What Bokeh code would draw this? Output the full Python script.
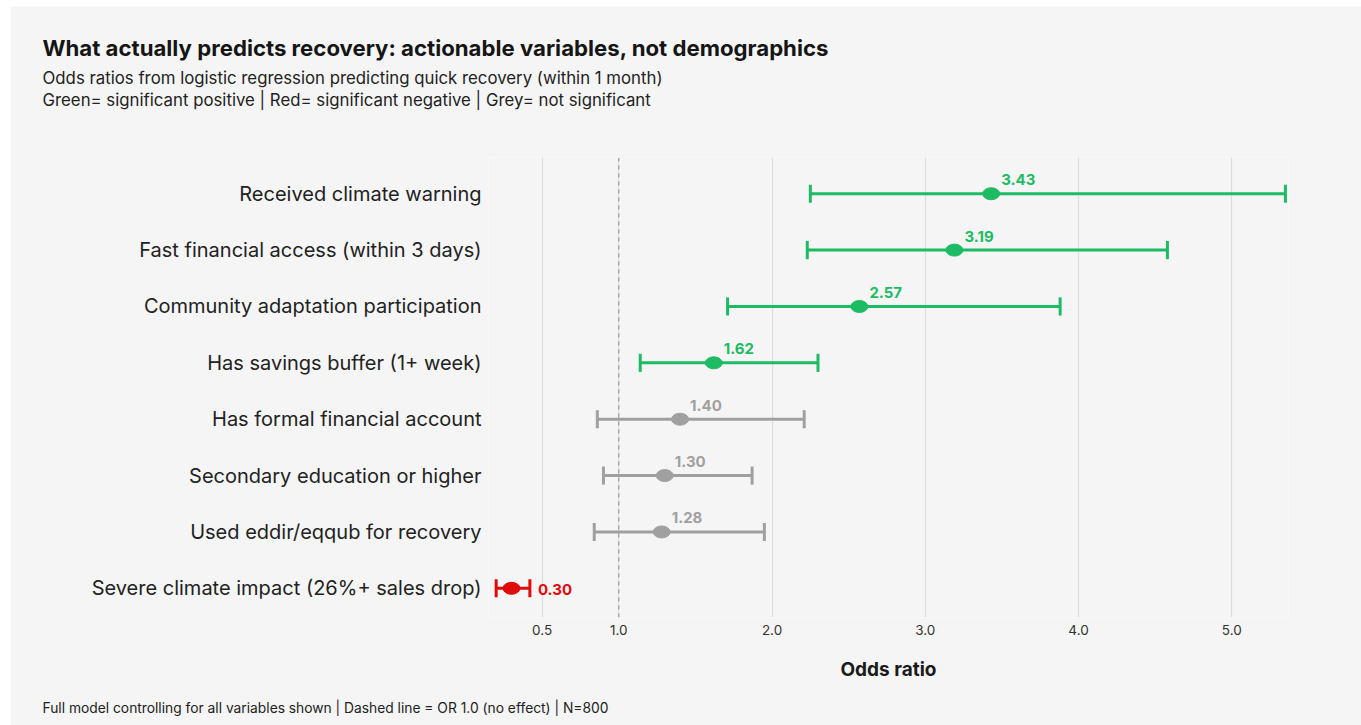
from bokeh.plotting import figure
from bokeh.models import (ColumnDataSource, Range1d, FixedTicker, NumeralTickFormatter,
                          Span, Title, Spacer)
from bokeh.layouts import column, row
from bokeh.core.properties import value
from bokeh.embed import file_html
from bokeh.resources import INLINE

# ---- data ----
categories = [
    "Received climate warning",
    "Fast financial access (within 3 days)",
    "Community adaptation participation",
    "Has savings buffer (1+ week)",
    "Has formal financial account",
    "Secondary education or higher",
    "Used eddir/eqqub for recovery",
    "Severe climate impact (26%+ sales drop)",
]
odds_ratio = [3.43, 3.19, 2.57, 1.62, 1.40, 1.30, 1.28, 0.30]
ci_low = [2.25, 2.23, 1.71, 1.14, 0.86, 0.90, 0.84, 0.20]
ci_high = [5.35, 4.58, 3.88, 2.30, 2.21, 1.87, 1.95, 0.42]
status = ["pos", "pos", "pos", "pos", "ns", "ns", "ns", "neg"]
x_ticks = [0.5, 1.0, 2.0, 3.0, 4.0, 5.0]

FONT = "Inter"
BG = "#f5f5f5"
colors = {"pos": "#1dbb63", "ns": "#a0a0a0", "neg": "#e00b0b"}

n = len(categories)
ypos = [n - i for i in range(n)]
col = [colors[s] for s in status]
cap = 9 / 56.0

src = ColumnDataSource(dict(
    y=ypos, lo=ci_low, hi=ci_high, orr=odds_ratio, color=col,
    ytop=[y + cap for y in ypos], ybot=[y - cap for y in ypos],
))

X0, X1 = 0.15, 5.37
frame_w = (X1 - X0) * 153.3
p = figure(width=1351, height=719, output_backend="svg", toolbar_location=None,
           x_range=Range1d(X0, X1), y_range=Range1d(0.482, 8.643),
           min_border_left=478, min_border_right=int(round(1351 - 478 - frame_w)),
           min_border_top=0, min_border_bottom=0,
           background_fill_color=BG, border_fill_color=BG, outline_line_color=None)

p.ygrid.grid_line_color = None
p.xgrid.grid_line_color = "#dcdcdc"
p.xgrid.grid_line_width = 1.2
p.xgrid.ticker = FixedTicker(ticks=x_ticks)

p.add_layout(Span(location=1.0, dimension="height", line_color="#999999",
                  line_dash="4 4", line_width=1.2))

p.segment(x0="lo", x1="hi", y0="y", y1="y", line_color="color", line_width=3, source=src)
p.segment(x0="lo", x1="lo", y0="ybot", y1="ytop", line_color="color", line_width=3, source=src)
p.segment(x0="hi", x1="hi", y0="ybot", y1="ytop", line_color="color", line_width=3, source=src)
p.ellipse(x="orr", y="y", width=17, height=12, width_units="screen", height_units="screen",
          fill_color="color", line_color="color", source=src)

# value labels
pos_idx = [i for i in range(n) if status[i] != "neg"]
neg_idx = [i for i in range(n) if status[i] == "neg"]
src_a = ColumnDataSource(dict(x=[odds_ratio[i] for i in pos_idx], y=[ypos[i] for i in pos_idx],
                              t=["%.2f" % odds_ratio[i] for i in pos_idx], c=[col[i] for i in pos_idx]))
src_b = ColumnDataSource(dict(x=[ci_high[i] for i in neg_idx], y=[ypos[i] for i in neg_idx],
                              t=["%.2f" % odds_ratio[i] for i in neg_idx], c=[col[i] for i in neg_idx]))
p.text(x="x", y="y", text="t", text_color="c", source=src_a, x_offset=10, y_offset=-14,
       text_font=value(FONT), text_font_size="15px", text_font_style="bold",
       text_baseline="middle", text_align="left")
p.text(x="x", y="y", text="t", text_color="c", source=src_b, x_offset=8, y_offset=1,
       text_font=value(FONT), text_font_size="15px", text_font_style="bold",
       text_baseline="middle", text_align="left")

# axes
xa = p.xaxis[0]
xa.ticker = FixedTicker(ticks=x_ticks)
xa.formatter = NumeralTickFormatter(format="0.0")
xa.axis_line_color = None
xa.major_tick_line_color = None
xa.minor_tick_line_color = None
xa.major_tick_out = 0
xa.major_tick_in = 0
xa.minor_tick_out = 0
xa.major_label_text_font = FONT
xa.major_label_text_font_size = "13.5px"
xa.major_label_text_color = "#333333"
xa.major_label_standoff = 7
xa.axis_label = "Odds ratio"
xa.axis_label_text_font = FONT
xa.axis_label_text_font_size = "19px"
xa.axis_label_text_font_style = "bold"
xa.axis_label_text_color = "#1a1a1a"
xa.axis_label_standoff = 20

ya = p.yaxis[0]
ya.ticker = FixedTicker(ticks=ypos)
ya.major_label_overrides = {ypos[i]: categories[i] for i in range(n)}
ya.axis_line_color = None
ya.major_tick_line_color = None
ya.minor_tick_line_color = None
ya.major_tick_out = 0
ya.major_tick_in = 0
ya.minor_tick_out = 0
ya.major_label_text_font = FONT
ya.major_label_text_font_size = "20px"
ya.major_label_text_color = "#222222"
ya.major_label_standoff = 7

OFF = -446

def spacer_title(st):
    return Title(text=" ", text_font=FONT, text_font_size="1px", standoff=st)

def text_title(text, size, st, bold=False, color="#222222"):
    return Title(text=text, align="left", offset=OFF, standoff=st, text_font=FONT,
                 text_font_size=size, text_font_style="bold" if bold else "normal",
                 text_color=color, vertical_align="bottom")

# above: first added = closest to the frame
p.add_layout(spacer_title(44.8), "above")
p.add_layout(text_title("Green= significant positive | Red= significant negative | Grey= not significant",
                        "16.8px", 0), "above")
p.add_layout(text_title("Odds ratios from logistic regression predicting quick recovery (within 1 month)",
                        "16.8px", 0), "above")
p.add_layout(text_title("What actually predicts recovery: actionable variables, not demographics",
                        "22.2px", 9.4, True, "#151515"), "above")
p.add_layout(spacer_title(17.4), "above")

# below: after the x axis
p.add_layout(spacer_title(11.2), "below")
p.add_layout(text_title("Full model controlling for all variables shown | Dashed line = OR 1.0 (no effect) | N=800",
                        "13.8px", 0), "below")
p.add_layout(spacer_title(6.5), "below")

layout = column(Spacer(height=6), row(Spacer(width=10), p))
open("out.html", "w").write(file_html(layout, INLINE))
